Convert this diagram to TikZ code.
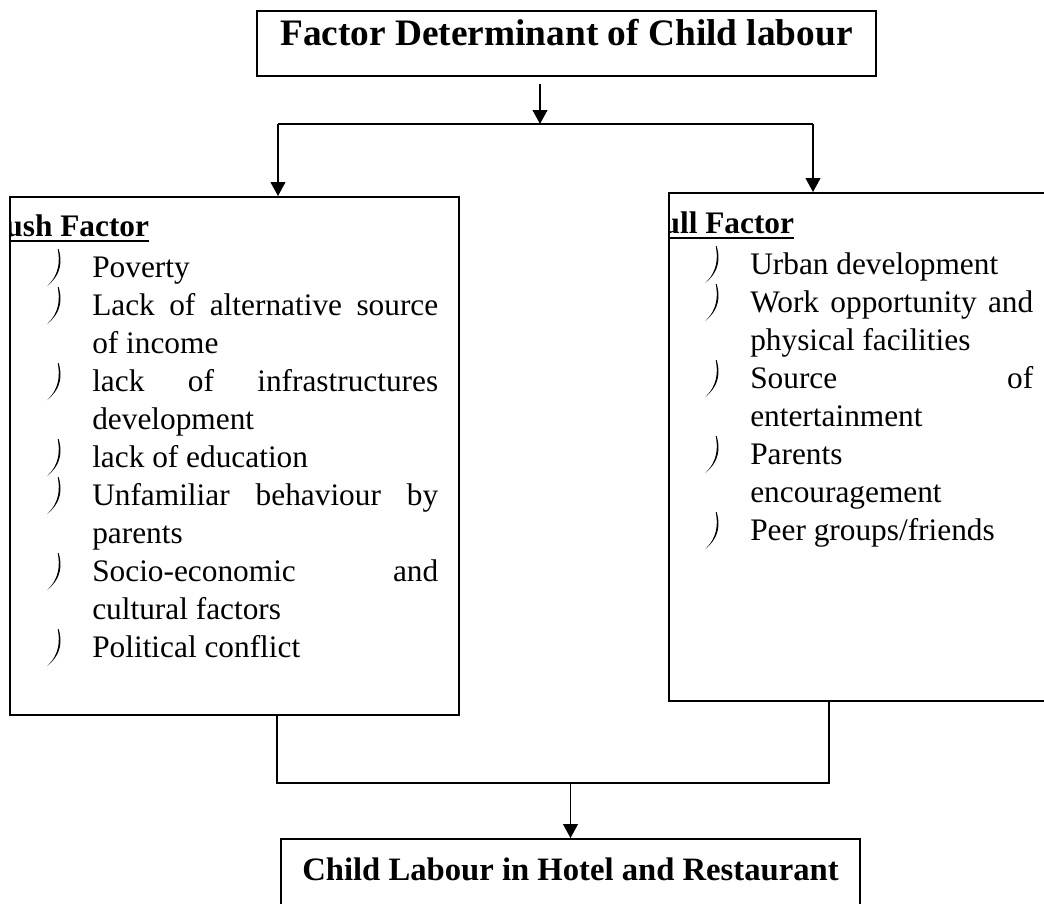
\documentclass[tikz,border=0pt]{standalone}
\usepackage{fontspec}
\setmainfont{Liberation Serif}
\usetikzlibrary{arrows.meta}

% keep the forced line breaks, no hyphenation
\tolerance=10000
\hyphenpenalty=10000
\exhyphenpenalty=10000
\lineskiplimit=-50pt

% curled bullet mark
\newcommand\curlbullet{\tikz[x=1pt,y=1pt,baseline=0pt]
  \fill (8.6,21) .. controls (10.8,13) and (11.8,3) .. (0,-6.8)
        .. controls (9.8,2.5) and (9.4,13) .. (7.9,21) -- cycle;}
\newcommand\factoritem[1]{\par\noindent\llap{\curlbullet\hspace{22pt}}#1}
\newcommand\factorhead[2]{\noindent\strut\hspace*{#1}%
  \setbox0\hbox{\bfseries #2}\rlap{\rule[-4pt]{\wd0}{1.4pt}}\box0}

\begin{document}
\begin{tikzpicture}[x=0.75pt, y=-0.75pt, line width=1.4pt,
    box/.style={draw, rectangle, inner sep=0pt},
    titlebox/.style={box, font=\bfseries\fontsize{28pt}{32pt}\selectfont},
    factorlist/.style={inner sep=0pt, anchor=north west, align=justify,
      font=\fontsize{23.5pt}{28.5pt}\selectfont},
    flow/.style={-{Triangle[length=10.5pt, width=11pt]}}]
  \useasboundingbox (0,0) rectangle (1044,903);

  % boxes
  \node[titlebox, minimum width=464.25pt, text height=25.5pt, text depth=23.25pt]
    (determinant) at (566.5,43.5) {Factor Determinant of Child labour};
  \node[box, minimum width=336.75pt, minimum height=388.5pt] (push) at (234.5,456) {};
  \node[box, minimum width=323.25pt, minimum height=381pt] (pull) at (884.5,447) {};
  \node[titlebox, font=\bfseries\fontsize{24.5pt}{28pt}\selectfont,
    minimum width=434.25pt, text height=30.75pt, text depth=60pt]
    (outcome) at (570.5,899.5) {Child Labour in Hotel and Restaurant};

  % factor lists
  \begin{scope}
    \clip (push.north west) rectangle (push.south east);
    \node[factorlist, text width=259.5pt] (pushlist) at (92,209.4) {%
      \factorhead{-79.5pt}{Push Factor}
      \factoritem{Poverty}
      \factoritem{Lack of alternative source\linebreak of income}
      \factoritem{lack of infrastructures\linebreak development}
      \factoritem{lack of education}
      \factoritem{Unfamiliar behaviour by\linebreak parents}
      \factoritem{Socio-economic and\linebreak cultural factors}
      \factoritem{Political conflict}};
  \end{scope}
  \begin{scope}
    \clip (pull.north west) rectangle (pull.south east);
    \node[factorlist, text width=212.25pt] (pulllist) at (750,206.4) {%
      \factorhead{-80.1pt}{Pull Factor}
      \factoritem{Urban development}
      \factoritem{Work opportunity and\linebreak physical facilities}
      \factoritem{Source of\linebreak entertainment}
      \factoritem{Parents\linebreak encouragement}
      \factoritem{Peer groups/friends}};
  \end{scope}

  % connectors
  \coordinate (split)     at (540,124);
  \coordinate (pushsplit) at (278,124);
  \coordinate (pullsplit) at (813,124);
  \coordinate (pushjoin)  at (277,783);
  \coordinate (pulljoin)  at (829,783);
  \draw[flow, shorten <=5pt] (determinant.south -| split) -- (split);
  \draw (pushsplit) -- (pullsplit);
  \draw[flow] (pushsplit) -- (pushsplit |- push.north);
  \draw[flow] (pullsplit) -- (pullsplit |- pull.north);
  \draw (pushjoin |- push.south) -- (pushjoin) -- (pulljoin) -- (pulljoin |- pull.south);
  \draw[flow] (outcome.north |- pushjoin) -- (outcome.north);
\end{tikzpicture}
\end{document}
